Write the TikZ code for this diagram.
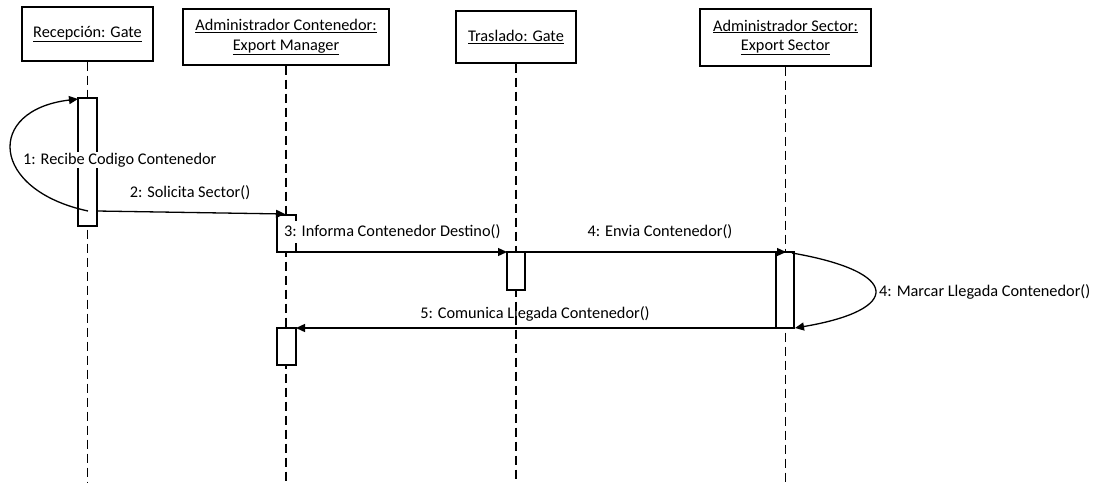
\documentclass[tikz,border=0pt]{standalone}
\usepackage{fontspec}
\setmainfont{Carlito}
\usetikzlibrary{arrows.meta}
\begin{document}
\begin{tikzpicture}[x=1pt,y=-1pt,
  every node/.style={font=\fontsize{16.3}{19.5}\selectfont, inner sep=1pt},
  objbox/.style={draw, line width=1.2pt, fill=white, minimum width=#1, minimum height=54pt, align=center, inner sep=0pt},
  lifeline/.style={line width=1.1pt, dash pattern=on 9pt off 5pt},
  actbox/.style={draw, line width=1.2pt, fill=white},
  msg/.style={line width=1.3pt, -{Triangle[length=9pt,width=8pt]}},
  lbl/.style={fill=white, inner sep=1pt}
]
\useasboundingbox (0,0) rectangle (1099,482);
\fill[white] (0,0) rectangle (1099,482);

% participants
\node[objbox=131pt] (p1) at (87.5,34) {\underline{Recepción: Gate}};
\node[objbox=206pt, minimum height=56pt] (p2) at (286,37) {\underline{Administrador Contenedor:}\\\underline{Export Manager}};
\node[objbox=120pt, minimum height=52pt] (p3) at (516,37) {\underline{Traslado: Gate}};
\node[objbox=171pt, minimum height=57pt] (p4) at (785.5,37.5) {\underline{Administrador Sector:}\\\underline{Export Sector}};

% lifelines
\coordinate (e1) at (87.5,482);
\coordinate (e2) at (286,482);
\coordinate (e3) at (516,482);
\coordinate (e4) at (785.5,482);
\draw[lifeline] (p1.south) -- (e1);
\draw[lifeline] (p2.south) -- (e2);
\draw[lifeline] (p3.south) -- (e3);
\draw[lifeline] (p4.south) -- (e4);

% activation bars
\draw[actbox] (78,98) rectangle (97,226);
\coordinate (a1t) at (78,99);
\coordinate (a1m) at (88,211);
\coordinate (a1r) at (97,211);
\draw[actbox] (277,215) rectangle (296,252);
\coordinate (a2t) at (285,214);
\coordinate (a2b) at (296,252);
\draw[actbox] (507,252) rectangle (525,290);
\coordinate (a3l) at (507,252);
\coordinate (a3r) at (525,252);
\draw[actbox] (776,252) rectangle (794,328);
\coordinate (a4t) at (786,252);
\coordinate (a4tr) at (792,253);
\coordinate (a4b) at (795,328);
\coordinate (a4l) at (776,328);
\draw[actbox] (277,328) rectangle (296,365);
\coordinate (a5r) at (296,328);

% messages
\draw[msg] (a1m) .. controls (-10,190) and (-15,110) .. (a1t);
\node[lbl, anchor=west] (m1) at (22,160) {1: Recibe Codigo Contenedor};

\draw[msg] (a1r) -- (a2t);
\node (m2) at (190,193) {2: Solicita Sector()};

\node[lbl, anchor=west, inner ysep=4pt] (m3) at (283,232) {3: Informa Contenedor Destino()};
\draw[msg] (a2b) -- (a3l);

\node (m4) at (660,232) {4: Envia Contenedor()};
\draw[msg] (a3r) -- (a4t);

\draw[msg] (a4tr) .. controls (902,272) and (902,310) .. (a4b);
\node[anchor=west] (m4b) at (878,292) {4: Marcar Llegada Contenedor()};

\node (m5) at (535,314) {5: Comunica Llegada Contenedor()};
\draw[msg] (a4l) -- (a5r);
\end{tikzpicture}
\end{document}
